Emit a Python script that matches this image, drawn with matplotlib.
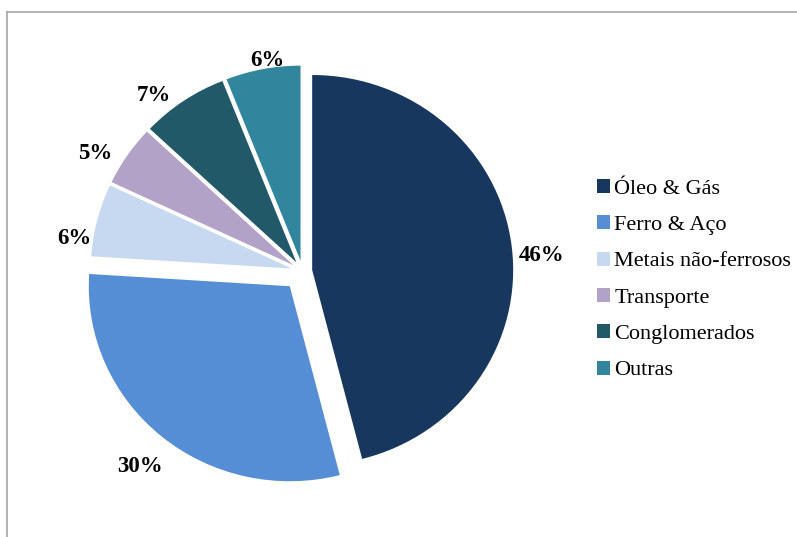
import matplotlib
matplotlib.use("Agg")
import matplotlib.pyplot as plt
from matplotlib.lines import Line2D
from matplotlib.patches import Patch

# ----- DATA
setores = ["Óleo & Gás", "Ferro & Aço", "Metais não-ferrosos",
           "Transporte", "Conglomerados", "Outras"]
participacao = [46, 30, 6, 5, 7, 6]
cores = ["#17375E", "#558ED5", "#C6D9F1", "#B3A2C7", "#215968", "#31859C"]
destaque = [0.048, 0.10, 0.055, 0.055, 0.055, 0.055]
# small pixel nudges for the % labels (x right, y down)
ajuste_rotulo = [(4, 13), (-5, 10), (2, 25), (-10, 12), (-15, 15), (9, 16)]

plt.rcParams["font.family"] = ["Liberation Serif", "DejaVu Serif"]

W, H = 797, 537
fig = plt.figure(figsize=(W / 100, H / 100), dpi=100)
ax = fig.add_axes([0, 0, 1, 1])

wedges, texts, autotexts = ax.pie(
    participacao, colors=cores, explode=destaque, startangle=90,
    counterclock=False, autopct="%1.0f%%", pctdistance=1.13,
    textprops={"fontsize": 16.5, "fontweight": "bold", "color": "black"})

# ----- pie centre / scale in pixels (slightly wider than tall, like the original)
cx, cy = 302.6, H - 271.2
sx, sy = 201.0, 195.0
ax.set_aspect("auto")
ax.set_xlim(-cx / sx, (W - cx) / sx)
ax.set_ylim(-cy / sy, (H - cy) / sy)
ax.axis("off")

for t, (dx, dy) in zip(autotexts, ajuste_rotulo):
    x, y = t.get_position()
    t.set_position((x + dx / sx, y - dy / sy))

# ----- legend
handles = [Patch(facecolor=c, edgecolor="none") for c in cores]
fig.legend(handles, setores, loc="upper left", bbox_to_anchor=(588 / W, 1 - 170 / H),
           frameon=False, fontsize=16, handlelength=0.6, handleheight=0.6,
           handletextpad=0.18, labelspacing=0.74, borderaxespad=0)

# ----- outer frame (only left and top visible)
fc = "#a6a6a6"
fig.add_artist(Line2D([6.5 / W, 6.5 / W], [0, 1 - 11.5 / H], color=fc, lw=1.2))
fig.add_artist(Line2D([6.5 / W, 1], [1 - 11.5 / H, 1 - 11.5 / H], color=fc, lw=1.2))

fig.savefig("out.png", dpi=100)
